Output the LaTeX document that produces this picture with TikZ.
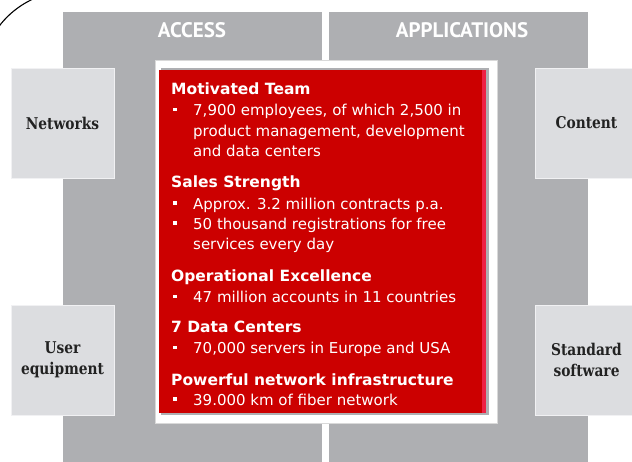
\documentclass[tikz,border=0pt]{standalone}
\usepackage{fontspec}
\setmainfont{DejaVu Sans}
\newfontfamily\titlefont{PT Sans}
\newfontfamily\boxfont[FakeStretch=0.85]{DejaVu Serif}

\definecolor{panelgray}{HTML}{AEAFB2}
\definecolor{boxgray}{HTML}{DCDDE0}
\definecolor{boxred}{HTML}{CC0000}
\definecolor{edgered}{HTML}{EE2244}
\definecolor{labeltext}{HTML}{222222}

\tikzset{
  panel/.style={fill=panelgray},
  sidebox/.style={draw=white!60!boxgray, fill=boxgray, minimum width=103pt, minimum height=110pt,
    inner sep=0pt, align=center, text=labeltext, font=\boxfont\bfseries\fontsize{16.2}{21}\selectfont},
  paneltitle/.style={inner sep=0pt, text=white, font=\titlefont\bfseries\fontsize{21}{24}\selectfont},
  head/.style={anchor=base west, inner sep=0pt, text=white, font=\bfseries\fontsize{15.5}{18}\selectfont},
  itemtext/.style={anchor=base west, inner sep=0pt, text=white, font=\fontsize{15}{18}\selectfont},
  bulletsq/.style={fill=white, minimum size=3.6pt, inner sep=0pt}
}

\begin{document}
\begin{tikzpicture}[x=1pt, y=-1pt]
      \useasboundingbox (0,0) rectangle (632,462);

      % arc in the corner
      \begin{scope}
        \clip (0,0) rectangle (60,40);
        \draw[line width=1.1pt] (70,80) circle[radius=89pt];
      \end{scope}

      % the two panels
      \fill[panel] (63,12) rectangle (322,462);
      \fill[panel] (329,12) rectangle (588,462);
      \node[paneltitle] (access) at (192,30.5) {ACCESS};
      \node[paneltitle] (apps) at (462,30.5) {APPLICATIONS};

      \node[sidebox] (networks) at (62.5,123) {Networks};
      \node[sidebox] (userequip) at (62.5,360) {User\\equipment};
      \node[sidebox] (content) at (586.5,123) {Content};
      \node[sidebox] (stdsoft) at (586.5,360) {Standard\\software};

      % red box in the middle
      \draw[draw=black!15, line width=0.6pt, fill=white] (155,60) rectangle (497,423);
      \fill[panelgray] (161,68) rectangle (489,415);
      \fill[edgered] (159,70) rectangle (486,413);
      \fill[boxred] (159,70) rectangle (482,413);

      \node[head] (team) at (171,95) {Motivated Team};
      \node[head] (sales) at (171,187.5) {Sales Strength};
      \node[head] (opex) at (171,282) {Operational Excellence};
      \node[head] (dc) at (171,333) {7 Data Centers};
      \node[head] (infra) at (171,385) {Powerful network infrastructure};

      \foreach \n/\y/\t in {t1/116/{7,900 employees, of which 2,500 in},
                            t2/136.5/{product management, development},
                            t3/157/{and data centers},
                            s1/209.5/{Approx. 3.2 million contracts p.a.},
                            s2/229.5/{50 thousand registrations for free},
                            s3/250/{services every day},
                            o1/303/{47 million accounts in 11 countries},
                            d1/354/{70,000 servers in Europe and USA},
                            p1/405.5/{39.000 km of fiber network}}
        \node[itemtext] (\n) at (193,\y) {\t};

      \foreach \y [count=\k] in {116,209.5,229.5,303,354,405.5}
        \node[bulletsq] (bul\k) at (175,\y-6.5) {};
\end{tikzpicture}
\end{document}
